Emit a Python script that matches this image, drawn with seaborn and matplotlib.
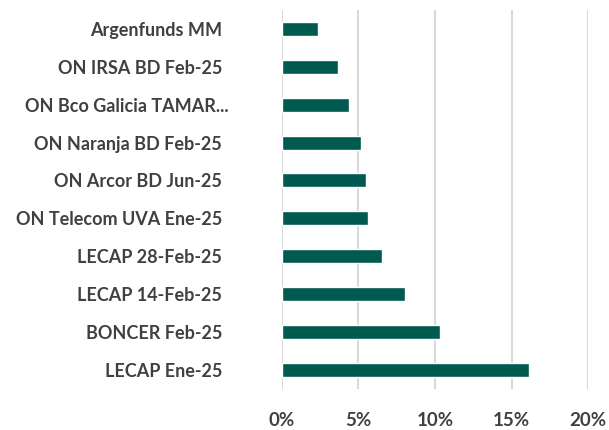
import pandas as pd
import matplotlib.pyplot as plt
import matplotlib.transforms as mtransforms
import seaborn as sns
from matplotlib.ticker import FuncFormatter

# holdings and their weight in the portfolio (%)
instruments = [
    "Argenfunds MM",
    "ON IRSA BD Feb-25",
    "ON Bco Galicia TAMAR...",
    "ON Naranja BD Feb-25",
    "ON Arcor BD Jun-25",
    "ON Telecom UVA Ene-25",
    "LECAP 28-Feb-25",
    "LECAP 14-Feb-25",
    "BONCER Feb-25",
    "LECAP Ene-25",
]
weights = [2.35, 3.7, 4.4, 5.2, 5.5, 5.6, 6.55, 8.05, 10.35, 16.15]
x_ticks = [0, 5, 10, 15, 20]

df = pd.DataFrame({"instrument": instruments, "weight": weights})

sns.set_style("white")
plt.rcParams["font.family"] = ["Lato", "DejaVu Sans"]

fig = plt.figure(figsize=(6.09, 4.30), dpi=100)
ax = fig.add_axes([0.4626, 0.0963, 0.5034, 0.8804])

sns.barplot(data=df, x="weight", y="instrument", orient="h",
            color="#005a50", saturation=1, width=0.37, ax=ax, zorder=3)

ax.set_xlim(0, 20)
ax.set_xticks(x_ticks)
ax.xaxis.set_major_formatter(FuncFormatter(lambda v, p: f"{v:.0f}%"))
ax.grid(True, axis="x", color="#d9d9d9", linewidth=1.5, zorder=0)
ax.grid(False, axis="y")
ax.set_axisbelow(True)
for s in ax.spines.values():
    s.set_visible(False)

ax.set_xlabel("")
ax.set_ylabel("")
ax.tick_params(axis="y", length=0, pad=43, labelsize=13, labelcolor="#404040")
ax.tick_params(axis="x", length=0, pad=17, labelsize=13.5, labelcolor="#404040")
for lbl in ax.get_yticklabels() + ax.get_xticklabels():
    lbl.set_fontweight("bold")

# the truncated label sits a bit further right, as in the source
long_lbl = ax.get_yticklabels()[2]
long_lbl.set_transform(long_lbl.get_transform() +
                       mtransforms.ScaledTranslation(7 / 100, 0, fig.dpi_scale_trans))

fig.savefig("out.png", dpi=100)
plt.close(fig)
